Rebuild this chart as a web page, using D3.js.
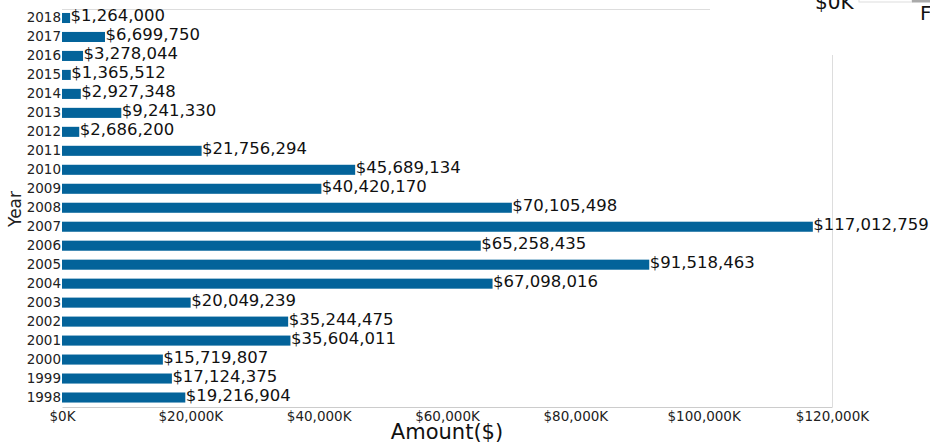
<!DOCTYPE html>
<html>
<head>
<meta charset="utf-8">
<script src="https://cdn.jsdelivr.net/npm/d3@7"></script>
<style>
  body { margin: 0; background: #fff; }
  svg { font-family: "DejaVu Sans", sans-serif; }
</style>
</head>
<body>
<svg width="930" height="445"></svg>
<script>
var years = ["2018","2017","2016","2015","2014","2013","2012","2011","2010","2009","2008",
             "2007","2006","2005","2004","2003","2002","2001","2000","1999","1998"];
var amounts = [1264000, 6699750, 3278044, 1365512, 2927348, 9241330, 2686200, 21756294,
               45689134, 40420170, 70105498, 117012759, 65258435, 91518463, 67098016,
               20049239, 35244475, 35604011, 15719807, 17124375, 19216904];
var xTicks = [0, 20000000, 40000000, 60000000, 80000000, 100000000, 120000000];

var svg = d3.select("svg");
var mLeft = 62, mRight = 832, mTop = 8.5, mBottom = 407;

var x = d3.scaleLinear().domain([0, 120000000]).range([mLeft, mRight]);
var y = d3.scaleBand().domain(years).range([mTop, mBottom])
  .paddingInner(0.47).paddingOuter(0.235);

// frame lines
svg.append("line").attr("x1", mLeft).attr("x2", 710).attr("y1", 9.5).attr("y2", 9.5)
  .attr("stroke", "#ddd");
svg.append("line").attr("x1", mRight + 0.5).attr("x2", mRight + 0.5).attr("y1", 55).attr("y2", mBottom)
  .attr("stroke", "#ddd");

// x axis
var xAxis = svg.append("g").attr("transform", "translate(0," + mBottom + ")")
  .call(d3.axisBottom(x).tickValues(xTicks).tickSize(0).tickPadding(4)
    .tickFormat(function(d){ return "$" + d3.format(",")(d / 1000) + "K"; }));
xAxis.select(".domain").attr("stroke", "#ccc");
xAxis.selectAll("text").attr("font-size", 13.5).attr("fill", "#222")
  .attr("font-family", "DejaVu Sans");

// y labels
svg.selectAll(".year")
  .data(years)
  .enter().append("text")
    .attr("x", mLeft - 1)
    .attr("y", function(d){ return y(d) + y.bandwidth() / 2 + 4; })
    .attr("text-anchor", "end")
    .attr("font-size", 13.5)
    .attr("fill", "#222")
    .text(function(d){ return d; });

// bars
svg.selectAll(".bar")
  .data(amounts)
  .enter().append("rect")
    .attr("x", mLeft)
    .attr("y", function(d, i){ return y(years[i]); })
    .attr("width", function(d){ return x(d) - mLeft; })
    .attr("height", y.bandwidth())
    .attr("fill", "#03639a");

// value labels
svg.selectAll(".val")
  .data(amounts)
  .enter().append("text")
    .attr("x", function(d){ return x(d) + 0.5; })
    .attr("y", function(d, i){ return y(years[i]) + y.bandwidth() / 2 + 3.5; })
    .attr("font-size", 16.5)
    .attr("fill", "#111")
    .text(function(d){ return "$" + d3.format(",")(d); });

// axis titles
svg.append("text").attr("x", 447).attr("y", 439).attr("text-anchor", "middle")
  .attr("font-size", 21).attr("fill", "#111").text("Amount($)");
svg.append("text").attr("transform", "translate(21,209) rotate(-90)")
  .attr("text-anchor", "middle").attr("font-size", 17).attr("fill", "#222").text("Year");

// clipped legend fragment at top right
svg.append("text").attr("x", 815).attr("y", 9).attr("font-size", 20).attr("fill", "#111").text("$0K");
svg.append("rect").attr("x", 859).attr("y", -1).attr("width", 53).attr("height", 3)
  .attr("fill", "#fff").attr("stroke", "#ddd");
svg.append("rect").attr("x", 912).attr("y", 0).attr("width", 18).attr("height", 2.5).attr("fill", "#aaa");
svg.append("text").attr("x", 920).attr("y", 19.5).attr("font-size", 20).attr("fill", "#111").text("F");
</script>
</body>
</html>
